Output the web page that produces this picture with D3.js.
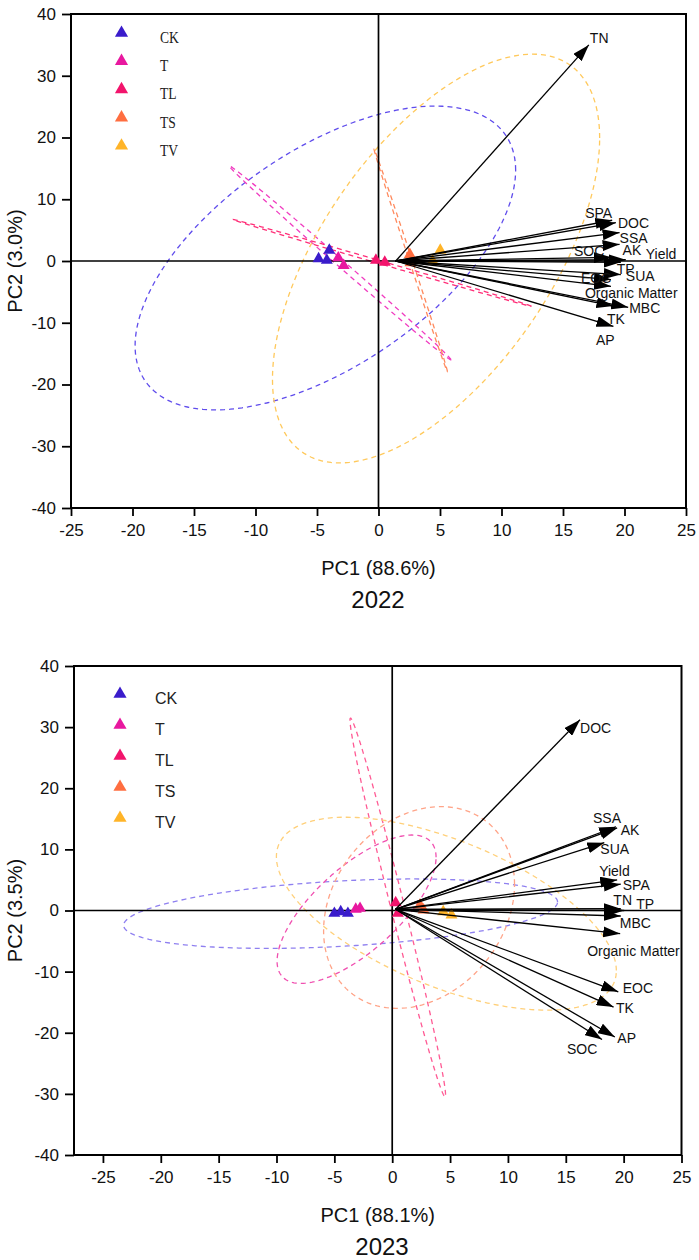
<!DOCTYPE html>
<html><head><meta charset="utf-8">
<script src="https://cdn.jsdelivr.net/npm/d3@7"></script>
<style>html,body{margin:0;padding:0;background:#fff}svg{display:block}</style>
</head><body>
<svg id="chart" width="699" height="1260"></svg>
<script>
// ---------------- DATA ----------------
const groups = ["CK", "T", "TL", "TS", "TV"];
const variables = ["TN","SPA","DOC","SSA","AK","SOC","Yield","TP","SUA","EOC","Organic Matter","MBC","TK","AP"];
const xTicks = [-25,-20,-15,-10,-5,0,5,10,15,20,25];
const yTicks = [-40,-30,-20,-10,0,10,20,30,40];

// 2022 loadings (arrow tips, PC1 / PC2)
const load1_2022 = [17.1,19.0,19.3,19.6,19.6,18.9,20.1,19.7,19.7,18.9,18.9,20.3,19.1,19.1];
const load2_2022 = [35.0,6.6,6.2,4.6,2.7,0.6,0.2,-0.2,-2.2,-3.0,-4.1,-7.5,-7.3,-10.6];
const origin2022 = [1.4, 0];
// 2022 sample scores
const scoreGroup2022 = ["CK","CK","CK","T","T","TL","TL","TS","TS","TV","TV"];
const score1_2022 = [-4.87,-4.0,-4.2,-3.27,-2.83,-0.21,0.51,2.55,2.6,5.02,4.4];
const score2_2022 = [0.36,1.75,0.13,0.52,-0.73,0.13,-0.19,1.06,-0.3,1.75,0.0];
// 2022 group ellipses: centre, half-width (PC1), half-height (PC2), correlation
const ellCx2022 = [-4.32,-3.12,0.29,2.62,4.68];
const ellCy2022 = [0.49,-0.3,-0.3,0.1,0.4];
const ellW2022 = [15.47,9.01,12.14,2.98,13.3];
const ellH2022 = [24.6,15.7,7.03,18.0,33.1];
const ellR2022 = [0.578,-0.9988,-0.9993,-0.9991,0.59];

// 2023 loadings
const load1_2023 = [19.75,19.75,16.23,19.34,19.44,18.13,19.44,20.05,18.33,19.54,19.7,19.75,19.13,19.24];
const load2_2023 = [0.3,4.3,31.2,13.7,13.5,-21.1,5.0,0.0,11.1,-13.3,-3.8,-0.9,-15.8,-20.7];
const origin2023 = [0.29, 0.2];
const scoreGroup2023 = ["CK","CK","CK","T","T","TL","TL","TS","TS","TV","TV"];
const score1_2023 = [-5.0,-4.45,-3.83,-3.15,-2.78,0.3,0.49,2.4,2.71,4.41,5.12];
const score2_2023 = [-0.46,-0.2,-0.46,0.2,0.36,1.28,-0.46,0.9,0.08,-0.2,-0.74];
const ellCx2023 = [-4.46,-3.08,0.48,2.32,4.68];
const ellCy2023 = [-0.52,0.21,0.49,0.49,-0.52];
const ellW2023 = [18.75,6.87,4.13,8.25,14.69];
const ellH2023 = [5.68,12.14,30.98,16.5,15.78];
const ellR2023 = [0.336,0.70,-0.989,0.23,-0.59];

// ---------------- STYLE / LAYOUT ----------------
const groupColors = ["#3a1ccb","#e8189f","#f2146c","#ff6e40","#ffb428"];
const ellColors2022 = ["#5f4cec","#f03cc0","#ff2f78","#ff8a5e","#ffc95c"];
const ellColors2023 = ["#8f80f0","#f050b0","#ff5a94","#ffa488","#ffd07a"];
const SANS = "'Liberation Sans', Arial, Helvetica, sans-serif";
const SERIF = "'Liberation Serif', 'Times New Roman', serif";

const labelOffsets2022 = {TN:[1,-7],SPA:[-27,-7.5],DOC:[2,0],SSA:[0,6],AK:[3,6],SOC:[-37,-6],Yield:[20,-6],TP:[-4,6.6],SUA:[5,2],EOC:[-30,-1],"Organic Matter":[-26,6.5],MBC:[1,0.6],TK:[-6.5,13],AP:[-17.5,14]};
const labelOffsets2023 = {DOC:[0,8],SSA:[-23,-8.5],AK:[3.5,2],SUA:[-4,6.6],Yield:[-18,-9],SPA:[2,1],TN:[-7.4,-8.6],TP:[12,-6],MBC:[-1,7],"Organic Matter":[-33,17],EOC:[4.4,-4],TK:[2.4,1.5],AP:[2.5,0.6],SOC:[-35,9.6]};

const svg = d3.select("#chart");
const defs = svg.append("defs");
defs.append("marker").attr("id","ah").attr("markerUnits","userSpaceOnUse")
  .attr("viewBox","0 0 17 11").attr("refX",17).attr("refY",5.5)
  .attr("markerWidth",17).attr("markerHeight",11).attr("orient","auto")
  .append("path").attr("d","M0,0 L17,5.5 L0,11 Z").attr("fill","#000");

function panel(cfg) {
  const g = svg.append("g");
  const x = d3.scaleLinear().domain(cfg.xDomain).range([cfg.left, cfg.right]);
  const y = d3.scaleLinear().domain([-40, 40]).range([cfg.bottom, cfg.top]);

  // ellipses
  const ts = d3.range(0, 361, 2).map(d => d * Math.PI / 180);
  const line = d3.line().x(d => x(d[0])).y(d => y(d[1]));
  groups.forEach((grp, i) => {
    const cx = cfg.ellCx[i], cy = cfg.ellCy[i], w = cfg.ellW[i], h = cfg.ellH[i], r = cfg.ellR[i];
    const s = Math.sqrt(1 - r * r);
    const pts = ts.map(t => [cx + w * Math.cos(t), cy + h * (r * Math.cos(t) + s * Math.sin(t))]);
    g.append("path").attr("d", line(pts)).attr("fill","none")
      .attr("stroke", cfg.ellColors[i]).attr("stroke-width",1.3).attr("stroke-dasharray","5,4");
  });

  // zero lines
  g.append("line").attr("x1", x(0)).attr("x2", x(0)).attr("y1", cfg.top).attr("y2", cfg.bottom)
    .attr("stroke","#000").attr("stroke-width",1.7);
  g.append("line").attr("x1", cfg.left).attr("x2", cfg.right).attr("y1", y(0)).attr("y2", y(0))
    .attr("stroke","#000").attr("stroke-width",1.7);

  // sample scores
  const tri = d3.symbol().type(d3.symbolTriangle).size(62);
  cfg.scoreGroup.forEach((grp, i) => {
    g.append("path").attr("d", tri())
      .attr("transform", `translate(${x(cfg.score1[i])},${y(cfg.score2[i])})`)
      .attr("fill", groupColors[groups.indexOf(grp)]);
  });

  // loadings arrows
  variables.forEach((v, i) => {
    g.append("line").attr("x1", x(cfg.origin[0])).attr("y1", y(cfg.origin[1]))
      .attr("x2", x(cfg.load1[i])).attr("y2", y(cfg.load2[i]))
      .attr("stroke","#000").attr("stroke-width",1.3).attr("marker-end","url(#ah)");
  });
  variables.forEach((v, i) => {
    const off = cfg.labelOffsets[v];
    g.append("text").attr("x", x(cfg.load1[i]) + off[0]).attr("y", y(cfg.load2[i]) + off[1])
      .attr("dy","0.35em").attr("font-family", SANS).attr("font-size",14).attr("fill","#111").text(v);
  });

  // frame
  g.append("rect").attr("x", cfg.left).attr("y", cfg.top)
    .attr("width", cfg.right - cfg.left).attr("height", cfg.bottom - cfg.top)
    .attr("fill","none").attr("stroke","#000").attr("stroke-width",2);

  // axes
  const xa = g.append("g").attr("transform", `translate(0,${cfg.bottom})`)
    .call(d3.axisBottom(x).tickValues(xTicks).tickSize(8).tickPadding(8).tickFormat(d => String(d)));
  const ya = g.append("g").attr("transform", `translate(${cfg.left},0)`)
    .call(d3.axisLeft(y).tickValues(yTicks).tickSize(9).tickPadding(6).tickFormat(d => String(d)));
  [xa, ya].forEach(a => {
    a.select(".domain").remove();
    a.selectAll(".tick line").attr("stroke","#000").attr("stroke-width",1.8);
    a.selectAll(".tick text").attr("font-family", SANS).attr("font-size",17).attr("fill","#111");
  });

  // titles
  const cxm = (cfg.left + cfg.right) / 2;
  g.append("text").attr("x", cxm).attr("y", cfg.bottom + 67).attr("text-anchor","middle")
    .attr("font-family", SANS).attr("font-size",20).attr("fill","#111").text(cfg.xTitle);
  g.append("text").attr("x", cfg.yearX).attr("y", cfg.bottom + 100).attr("text-anchor","middle")
    .attr("font-family", SANS).attr("font-size",24).attr("fill","#111").text(cfg.year);
  g.append("text").attr("transform", `translate(22,${(cfg.top + cfg.bottom) / 2}) rotate(-90)`)
    .attr("text-anchor","middle").attr("font-family", SANS).attr("font-size",20).attr("fill","#111").text(cfg.yTitle);

  // legend
  const lt = d3.symbol().type(d3.symbolTriangle).size(75);
  groups.forEach((grp, i) => {
    const ly = cfg.legTop + i * cfg.legStep;
    g.append("path").attr("d", lt()).attr("transform", `translate(${cfg.legX},${ly})`).attr("fill", groupColors[i]);
    g.append("text").attr("x", cfg.legTextX).attr("y", ly + 4).attr("dy","0.35em")
      .attr("font-family", cfg.legFont).attr("font-size", cfg.legSize).attr("fill","#222")
      .attr("transform", cfg.legSquash ? `translate(${cfg.legTextX},0) scale(0.8,1) translate(${-cfg.legTextX},0)` : null)
      .text(grp);
  });
}

panel({
  left: 71, right: 686, top: 14, bottom: 508, xDomain: [-25, 25],
  ellCx: ellCx2022, ellCy: ellCy2022, ellW: ellW2022, ellH: ellH2022, ellR: ellR2022, ellColors: ellColors2022,
  scoreGroup: scoreGroup2022, score1: score1_2022, score2: score2_2022,
  load1: load1_2022, load2: load2_2022, origin: origin2022, labelOffsets: labelOffsets2022,
  xTitle: "PC1 (88.6%)", yTitle: "PC2 (3.0%)", year: "2022", yearX: 378,
  legX: 121.5, legTextX: 160, legTop: 33, legStep: 28.2, legFont: SERIF, legSize: 17, legSquash: true
});
panel({
  left: 74, right: 681.5, top: 666, bottom: 1155, xDomain: [-27.5, 25],
  ellCx: ellCx2023, ellCy: ellCy2023, ellW: ellW2023, ellH: ellH2023, ellR: ellR2023, ellColors: ellColors2023,
  scoreGroup: scoreGroup2023, score1: score1_2023, score2: score2_2023,
  load1: load1_2023, load2: load2_2023, origin: origin2023, labelOffsets: labelOffsets2023,
  xTitle: "PC1 (88.1%)", yTitle: "PC2 (3.5%)", year: "2023", yearX: 382,
  legX: 120, legTextX: 155, legTop: 694, legStep: 31, legFont: SANS, legSize: 16, legSquash: false
});
</script>
</body></html>
